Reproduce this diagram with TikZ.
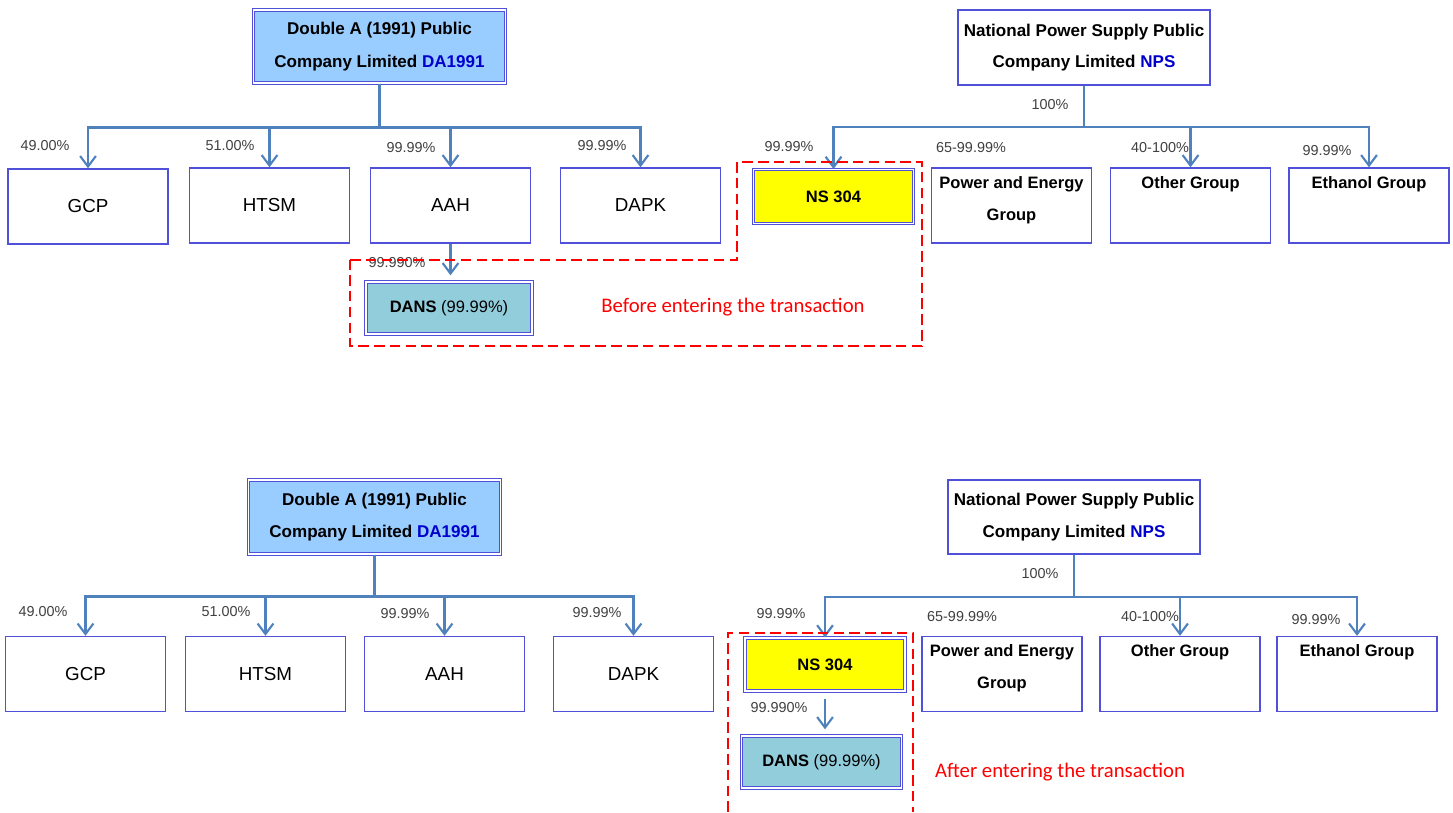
\documentclass[tikz,border=0pt]{standalone}
\usepackage{fontspec}
\setmainfont{Liberation Sans}
\newfontfamily\calib{Carlito}
\usetikzlibrary{arrows.meta}
\definecolor{edge}{HTML}{4F81BD}
\definecolor{frame}{HTML}{5050D8}
\definecolor{da}{HTML}{99CCFF}
\definecolor{dans}{HTML}{92CDDC}
\definecolor{ns}{HTML}{FFFF00}
\definecolor{code}{HTML}{0000CC}
\definecolor{deal}{HTML}{FF0000}
\tikzset{parent/.style={draw=frame,line width=0.6pt,double,double distance=0.7pt,fill=da,align=center,font=\fontsize{9.7}{18.5}\selectfont\bfseries,minimum width=5.04cm,minimum height=1.46cm}}
\tikzset{holder/.style={draw=frame,line width=0.8pt,fill=white,align=center,font=\fontsize{9.7}{18}\selectfont\bfseries,minimum width=5.04cm,minimum height=1.5cm}}
\tikzset{sub/.style={draw=frame,line width=0.8pt,fill=white,font=\fontsize{10.7}{12}\selectfont,minimum width=3.2cm,minimum height=1.5cm}}
\tikzset{grp/.style={draw=frame,line width=0.8pt,fill=white,minimum width=3.2cm,minimum height=1.5cm}}
\tikzset{grptext/.style={anchor=north,align=center,inner sep=5pt,font=\fontsize{9.4}{18}\selectfont\bfseries}}
\tikzset{nsbox/.style={draw=frame,line width=0.6pt,double,double distance=0.7pt,fill=ns,font=\fontsize{9.4}{11}\selectfont\bfseries,minimum width=3.2cm,minimum height=1.08cm}}
\tikzset{dansbox/.style={draw=frame,line width=0.6pt,double,double distance=0.7pt,fill=dans,font=\fontsize{9.4}{11}\selectfont,minimum width=3.2cm,minimum height=1.04cm}}
\tikzset{pct/.style={font=\fontsize{8.2}{10}\selectfont,text=black!75,inner sep=0pt}}
\tikzset{conn/.style={draw=edge,line width=1.2pt,-{Straight Barb[length=6pt,width=9pt]}}}
\tikzset{trans/.style={draw=deal,line width=1.5pt,dash pattern=on 6pt off 3pt}}
\tikzset{note/.style={text=deal,font=\calib\fontsize{11.8}{14}\selectfont}}

\begin{document}
\begin{tikzpicture}[x=0.02cm,y=-0.02cm]
    \useasboundingbox (0,0) rectangle (1453,812);

    % before entering the transaction
    \node[parent] (da1) at (379.5,46.5) {Double A (1991) Public\\Company Limited \textcolor{code}{DA1991}};
    \node[sub] (gcp1) at (88,206.5) {GCP};
    \node[sub] (htsm1) at (269.5,205.5) {HTSM};
    \node[sub] (aah1) at (450.5,205.5) {AAH};
    \node[sub] (dapk1) at (640.5,205.5) {DAPK};
    \node[dansbox,minimum width=3.32cm] (dans1) at (449,308) {\textbf{DANS} (99.99\%)};

    \node[holder] (nps1) at (1084,47.5) {National Power Supply Public\\Company Limited \textcolor{code}{NPS}};
    \node[nsbox] (ns1) at (833.5,196.5) {NS 304};
    \node[grp,label={[grptext]north:Power and Energy\\Group}] (pow1) at (1011.5,205.5) {};
    \node[grp,label={[grptext]north:Other Group}] (oth1) at (1190.5,205.5) {};
    \node[grp,label={[grptext]north:Ethanol Group}] (eth1) at (1369,205.5) {};

    \node[pct] (p11) at (45,146) {49.00\%};
    \node[pct] (p12) at (230,146) {51.00\%};
    \node[pct] (p13) at (411,148) {99.99\%};
    \node[pct] (p14) at (602,146) {99.99\%};
    \node[pct] (p15) at (397,263) {99.990\%};
    \node[pct] (p16) at (1050,105) {100\%};
    \node[pct] (p17) at (789,147) {99.99\%};
    \node[pct] (p18) at (971,148) {65-99.99\%};
    \node[pct] (p19) at (1160,148) {40-100\%};
    \node[pct] (p110) at (1327,151) {99.99\%};

    \draw[conn] (da1.south) -- ++(0,44) -| (gcp1.north);
    \draw[conn] (da1.south) -- ++(0,44) -| (htsm1.north);
    \draw[conn] (da1.south) -- ++(0,44) -| (aah1.north);
    \draw[conn] (da1.south) -- ++(0,44) -| (dapk1.north);
    \draw[conn,shorten >=3.5pt] (aah1.south) -- (aah1.south |- dans1.north);
    \draw[conn] (nps1.south) -- ++(0,41) -| (ns1.north);
    \draw[conn] (nps1.south) -- ++(0,41) -| (oth1.north);
    \draw[conn] (nps1.south) -- ++(0,41) -| (eth1.north);

    \draw[trans] (350,260) -- (737,260) -- (737,162) -- (922,162) -- (922,346) -- (350,346) -- cycle;
    \node[note] (note1) at (733,307) {Before entering the transaction};

    % after entering the transaction
    \node[parent,minimum height=1.48cm] (da2) at (374.5,517) {Double A (1991) Public\\Company Limited \textcolor{code}{DA1991}};
    \node[sub] (gcp2) at (85.5,674) {GCP};
    \node[sub] (htsm2) at (265.5,674) {HTSM};
    \node[sub] (aah2) at (444.5,674) {AAH};
    \node[sub] (dapk2) at (633.5,674) {DAPK};

    \node[holder,minimum height=1.48cm] (nps2) at (1074,517) {National Power Supply Public\\Company Limited \textcolor{code}{NPS}};
    \node[nsbox,minimum height=1.06cm] (ns2) at (825,664.5) {NS 304};
    \node[dansbox] (dans2) at (821.5,762) {\textbf{DANS} (99.99\%)};
    \node[grp,label={[grptext]north:Power and Energy\\Group}] (pow2) at (1002,674) {};
    \node[grp,label={[grptext]north:Other Group}] (oth2) at (1180,674) {};
    \node[grp,label={[grptext]north:Ethanol Group}] (eth2) at (1357,674) {};

    \node[pct] (p21) at (43,612) {49.00\%};
    \node[pct] (p22) at (226,612) {51.00\%};
    \node[pct] (p23) at (405,614) {99.99\%};
    \node[pct] (p24) at (597,613) {99.99\%};
    \node[pct] (p25) at (779,708) {99.990\%};
    \node[pct] (p26) at (1040,574) {100\%};
    \node[pct] (p27) at (781,614) {99.99\%};
    \node[pct] (p28) at (962,617) {65-99.99\%};
    \node[pct] (p29) at (1150,617) {40-100\%};
    \node[pct] (p210) at (1316,620) {99.99\%};

    \draw[conn] (da2.south) -- ++(0,42) -| (gcp2.north);
    \draw[conn] (da2.south) -- ++(0,42) -| (htsm2.north);
    \draw[conn] (da2.south) -- ++(0,42) -| (aah2.north);
    \draw[conn] (da2.south) -- ++(0,42) -| (dapk2.north);
    \draw[conn] (nps2.south) -- ++(0,42) -| (ns2.north);
    \draw[conn] (nps2.south) -- ++(0,42) -| (oth2.north);
    \draw[conn] (nps2.south) -- ++(0,42) -| (eth2.north);
    \draw[conn,shorten <=4.5pt,shorten >=3.5pt] (ns2.south) -- (ns2.south |- dans2.north);

    \draw[trans] (728,812) -- (728,633) -- (913,633) -- (913,812);
    \node[note] (note2) at (1060,772) {After entering the transaction};
\end{tikzpicture}
\end{document}
